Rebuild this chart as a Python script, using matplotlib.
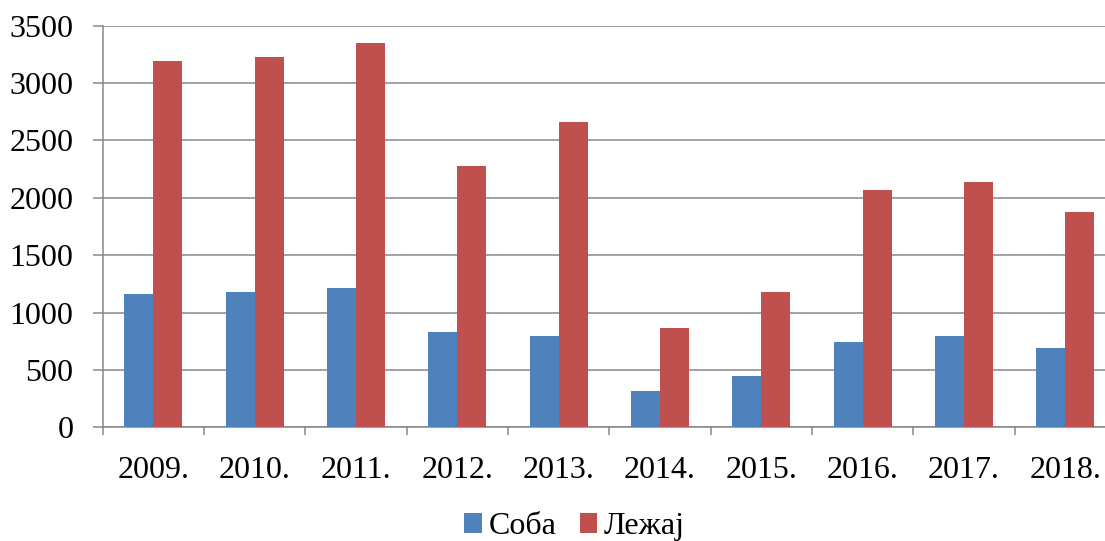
import matplotlib.pyplot as plt
import numpy as np

years = ['2009.', '2010.', '2011.', '2012.', '2013.', '2014.', '2015.', '2016.', '2017.', '2018.']
soba = [1162, 1179, 1214, 834, 799, 314, 450, 747, 799, 694]
lezaj = [3196, 3230, 3352, 2277, 2658, 869, 1179, 2068, 2138, 1877]
series_names = ['Соба', 'Лежај']
y_ticks = [0, 500, 1000, 1500, 2000, 2500, 3000, 3500]

plt.rcParams['font.family'] = ['Liberation Serif', 'DejaVu Serif']

fig = plt.figure(figsize=(11.05, 5.41), dpi=100)
ax = fig.add_axes([0.0929, 0.2102, 1.0100 - 0.0929, 0.9525 - 0.2102])

x = np.arange(len(years))
w = 0.285
ax.bar(x - w / 2, soba, w, color='#4F81BD', label=series_names[0], zorder=3)
ax.bar(x + w / 2, lezaj, w, color='#C0504D', label=series_names[1], zorder=3)

grey = '#878787'
ax.set_ylim(0, 3500)
ax.set_xlim(-0.5, len(years) - 0.5)
ax.set_yticks(y_ticks)
ax.yaxis.grid(True, color=grey, linewidth=1.1, zorder=0)

ax.set_xticks(x)
ax.set_xticklabels(years)
ax.set_xticks(np.arange(-0.5, len(years), 1.0), minor=True)
ax.tick_params(axis='x', which='major', length=0, pad=20.5, labelsize=23)
ax.tick_params(axis='x', which='minor', length=5.5, width=1.1, color=grey, direction='out')
ax.tick_params(axis='y', length=7, width=1.1, color=grey, pad=14, labelsize=23)

for s in ['top', 'right']:
    ax.spines[s].set_visible(False)
for s in ['left', 'bottom']:
    ax.spines[s].set_color(grey)
    ax.spines[s].set_linewidth(1.1)

# legend sits at the very bottom edge, like in the original
fig.legend(loc='center', bbox_to_anchor=(0.52, 0.026), ncol=2, frameon=False,
           fontsize=23, handlelength=0.56, handleheight=0.56, handletextpad=0.2,
           columnspacing=0.72)

fig.savefig('out.png', dpi=100)
